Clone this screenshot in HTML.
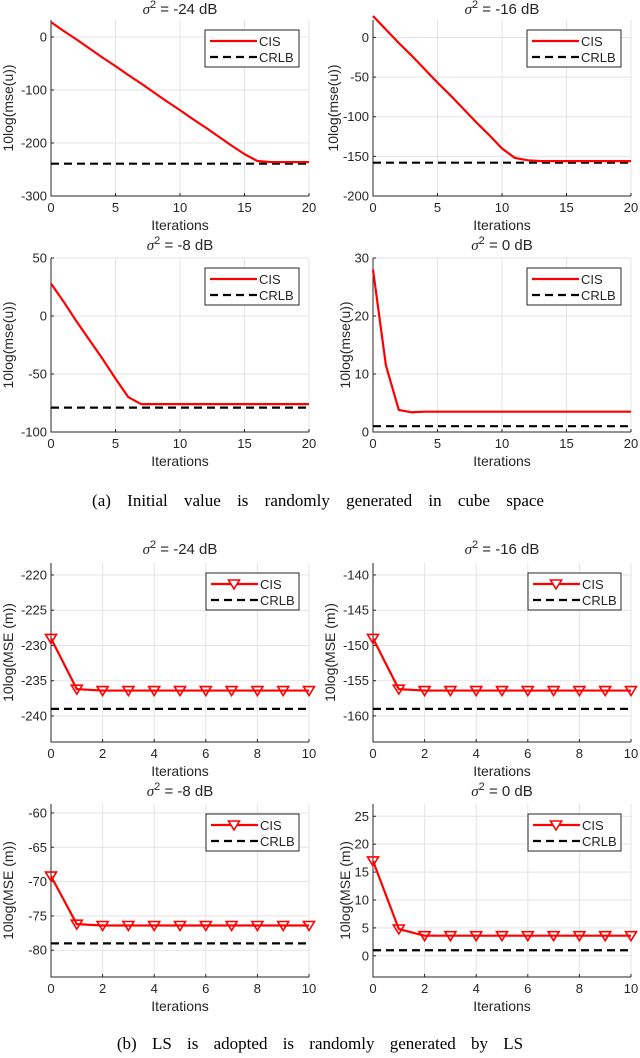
<!DOCTYPE html>
<html><head><meta charset="utf-8">
<style>
html,body{margin:0;padding:0;background:#fff;}
svg{display:block;}
text{font-family:"Liberation Sans",sans-serif;fill:#262626;}
.cap{font-family:"Liberation Serif",serif;fill:#000;font-size:17px;}
</style></head>
<body>
<svg id="fig" width="640" height="1058" viewBox="0 0 640 1058" xmlns="http://www.w3.org/2000/svg">
<text class="cap" x="318" y="506" text-anchor="middle" word-spacing="12">(a) Initial value is randomly generated in cube space</text>
<text class="cap" x="320" y="1049" text-anchor="middle" word-spacing="11">(b) LS is adopted is randomly generated by LS</text>
</svg>
<script>
const iters20 = [0,1,2,3,4,5,6,7,8,9,10,11,12,13,14,15,16,17,18,19,20];
const iters10 = [0,1,2,3,4,5,6,7,8,9,10];
const cis1 = [28,11,-5,-22,-39,-55,-72,-88,-105,-122,-138,-155,-171,-188,-205,-221,-234,-236,-236,-236,-236];
const crlb1 = -239;
const cis2 = [27,10,-7,-23,-40,-57,-73,-90,-107,-123,-140,-152,-155,-156,-156,-156,-156,-156,-156,-156,-156];
const crlb2 = -158;
const cis3 = [28,12,-5,-21,-37,-54,-70,-76,-76,-76,-76,-76,-76,-76,-76,-76,-76,-76,-76,-76,-76];
const crlb3 = -79;
const cis4 = [28,11.5,3.8,3.4,3.5,3.5,3.5,3.5,3.5,3.5,3.5,3.5,3.5,3.5,3.5,3.5,3.5,3.5,3.5,3.5,3.5];
const crlb4 = 1;
const cis5 = [-229,-236.2,-236.4,-236.4,-236.4,-236.4,-236.4,-236.4,-236.4,-236.4,-236.4];
const crlb5 = -239;
const cis6 = [-149,-156.2,-156.4,-156.4,-156.4,-156.4,-156.4,-156.4,-156.4,-156.4,-156.4];
const crlb6 = -159;
const cis7 = [-69.2,-76.2,-76.4,-76.4,-76.4,-76.4,-76.4,-76.4,-76.4,-76.4,-76.4];
const crlb7 = -79;
const cis8 = [17,4.8,3.6,3.6,3.6,3.6,3.6,3.6,3.6,3.6,3.6];
const crlb8 = 1;
const xt20 = [0,5,10,15,20];
const xt10 = [0,2,4,6,8,10];
const yt1 = [-300,-200,-100,0];
const yt2 = [-200,-150,-100,-50,0];
const yt3 = [-100,-50,0,50];
const yt4 = [0,10,20,30];
const yt5 = [-240,-235,-230,-225,-220];
const yt6 = [-160,-155,-150,-145,-140];
const yt7 = [-80,-75,-70,-65,-60];
const yt8 = [0,5,10,15,20,25];
const titles = ["-24 dB","-16 dB","-8 dB","0 dB","-24 dB","-16 dB","-8 dB","0 dB"];

const NS="http://www.w3.org/2000/svg";
const svg=document.getElementById('fig');
function mk(tag,attrs,parent){const e=document.createElementNS(NS,tag);for(const k in attrs)e.setAttribute(k,attrs[k]);(parent||svg).appendChild(e);return e;}

const plots=[
 {L:51,R:309,T:20,B:196,x0:0,x1:20,y0:-300,y1:32,xs:iters20,ys:cis1,cr:crlb1,xt:xt20,yt:yt1,yl:"10log(mse(u))",lx:8,mk:false,tt:titles[0],ty:14},
 {L:373,R:631,T:20,B:196,x0:0,x1:20,y0:-200,y1:22,xs:iters20,ys:cis2,cr:crlb2,xt:xt20,yt:yt2,yl:"10log(mse(u))",lx:333,mk:false,tt:titles[1],ty:14},
 {L:51,R:309,T:258,B:432,x0:0,x1:20,y0:-100,y1:50,xs:iters20,ys:cis3,cr:crlb3,xt:xt20,yt:yt3,yl:"10log(mse(u))",lx:8,mk:false,tt:titles[2],ty:250},
 {L:373,R:631,T:258,B:432,x0:0,x1:20,y0:0,y1:30,xs:iters20,ys:cis4,cr:crlb4,xt:xt20,yt:yt4,yl:"10log(mse(u))",lx:345,mk:false,tt:titles[3],ty:250},
 {L:51,R:309,T:563,B:742,x0:0,x1:10,y0:-243.7,y1:-218.3,xs:iters10,ys:cis5,cr:crlb5,xt:xt10,yt:yt5,yl:"10log(MSE (m))",lx:8,mk:true,tt:titles[4],ty:554},
 {L:373,R:631,T:563,B:742,x0:0,x1:10,y0:-163.7,y1:-138.3,xs:iters10,ys:cis6,cr:crlb6,xt:xt10,yt:yt6,yl:"10log(MSE (m))",lx:330,mk:true,tt:titles[5],ty:554},
 {L:51,R:309,T:804,B:977,x0:0,x1:10,y0:-83.9,y1:-58.7,xs:iters10,ys:cis7,cr:crlb7,xt:xt10,yt:yt7,yl:"10log(MSE (m))",lx:8,mk:true,tt:titles[6],ty:796},
 {L:373,R:631,T:804,B:977,x0:0,x1:10,y0:-3.8,y1:27.2,xs:iters10,ys:cis8,cr:crlb8,xt:xt10,yt:yt8,yl:"10log(MSE (m))",lx:345,mk:true,tt:titles[7],ty:796}
];

plots.forEach((p,i)=>{
  const g=mk('g',{});
  
  
  const sx=v=>p.L+(v-p.x0)/(p.x1-p.x0)*(p.R-p.L);
  const sy=v=>p.B-(v-p.y0)/(p.y1-p.y0)*(p.B-p.T);
  p.xt.forEach(v=>{const l=mk('line',{x1:sx(v),x2:sx(v),y1:p.T,y2:p.B,stroke:'#e3e3e3','stroke-width':1},g);
    });
  p.yt.forEach(v=>{const l=mk('line',{x1:p.L,x2:p.R,y1:sy(v),y2:sy(v),stroke:'#e3e3e3','stroke-width':1},g);
    });
  const ax=mk('path',{d:`M${p.L},${p.T}V${p.B}H${p.R}`,fill:'none',stroke:'#262626','stroke-width':1},g);
  
  p.xt.forEach(v=>{
    mk('line',{x1:sx(v),x2:sx(v),y1:p.B,y2:p.B-3,stroke:'#262626'},g);
    const t=mk('text',{x:sx(v),y:p.B+16,'text-anchor':'middle','font-size':13},g);t.textContent=v;
    
  });
  p.yt.forEach(v=>{
    mk('line',{x1:p.L,x2:p.L+3,y1:sy(v),y2:sy(v),stroke:'#262626'},g);
    const t=mk('text',{x:p.L-4,y:sy(v)+4.5,'text-anchor':'end','font-size':13},g);t.textContent=v;
    
  });
  const xl=mk('text',{x:(p.L+p.R)/2,y:p.B+34,'text-anchor':'middle','font-size':14},g);xl.textContent='Iterations';
  
  const yl=mk('text',{x:0,y:0,'text-anchor':'middle','font-size':14,transform:`translate(${p.lx+5},${(p.T+p.B)/2}) rotate(-90)`},g);yl.textContent=p.yl;
  
  const tt=mk('text',{x:(p.L+p.R)/2,y:p.ty,'text-anchor':'middle','font-size':15},g);
  tt.innerHTML='<tspan font-style="italic" font-family="Liberation Serif,serif">σ</tspan><tspan dy="-6" font-size="11">2</tspan><tspan dy="6"> = '+p.tt+'</tspan>';
  
  const cr=mk('line',{x1:p.L,x2:p.R,y1:sy(p.cr),y2:sy(p.cr),stroke:'#000','stroke-width':2.2,'stroke-dasharray':'8,5'},g);
  
  const pts=p.xs.map((x,j)=>sx(x)+','+sy(p.ys[j])).join(' ');
  const cl=mk('polyline',{points:pts,fill:'none',stroke:'#ff0000','stroke-width':2.2,'stroke-linejoin':'round'},g);
  
  if(p.mk){p.xs.forEach((x,j)=>{const cx=sx(x),cy=sy(p.ys[j]);
    const m=mk('path',{d:`M${cx-5.5},${cy-4}H${cx+5.5}L${cx},${cy+5}Z`,fill:'none',stroke:'#ff0000','stroke-width':1.6},g);
    });}
  const lw=p.mk?93:94, lx=p.R-lw-10, ly=p.T+10;
  const lg=mk('g',{},g);
  mk('rect',{x:lx,y:ly,width:lw,height:37,fill:'#fff',stroke:'#262626','stroke-width':1},lg);
  mk('line',{x1:lx+5,x2:lx+52,y1:ly+11,y2:ly+11,stroke:'#ff0000','stroke-width':2.2},lg);
  if(p.mk){const cx=lx+28,cy=ly+11;mk('path',{d:`M${cx-5.5},${cy-4}H${cx+5.5}L${cx},${cy+5}Z`,fill:'#fff',stroke:'#ff0000','stroke-width':1.6},lg);}
  mk('line',{x1:lx+5,x2:lx+52,y1:ly+27,y2:ly+27,stroke:'#000','stroke-width':2.2,'stroke-dasharray':'8,5'},lg);
  const a=mk('text',{x:lx+54,y:ly+16,'font-size':13},lg);a.textContent='CIS';
  
  const b=mk('text',{x:lx+54,y:ly+32,'font-size':13},lg);b.textContent='CRLB';
  
});
</script>
</body></html>
